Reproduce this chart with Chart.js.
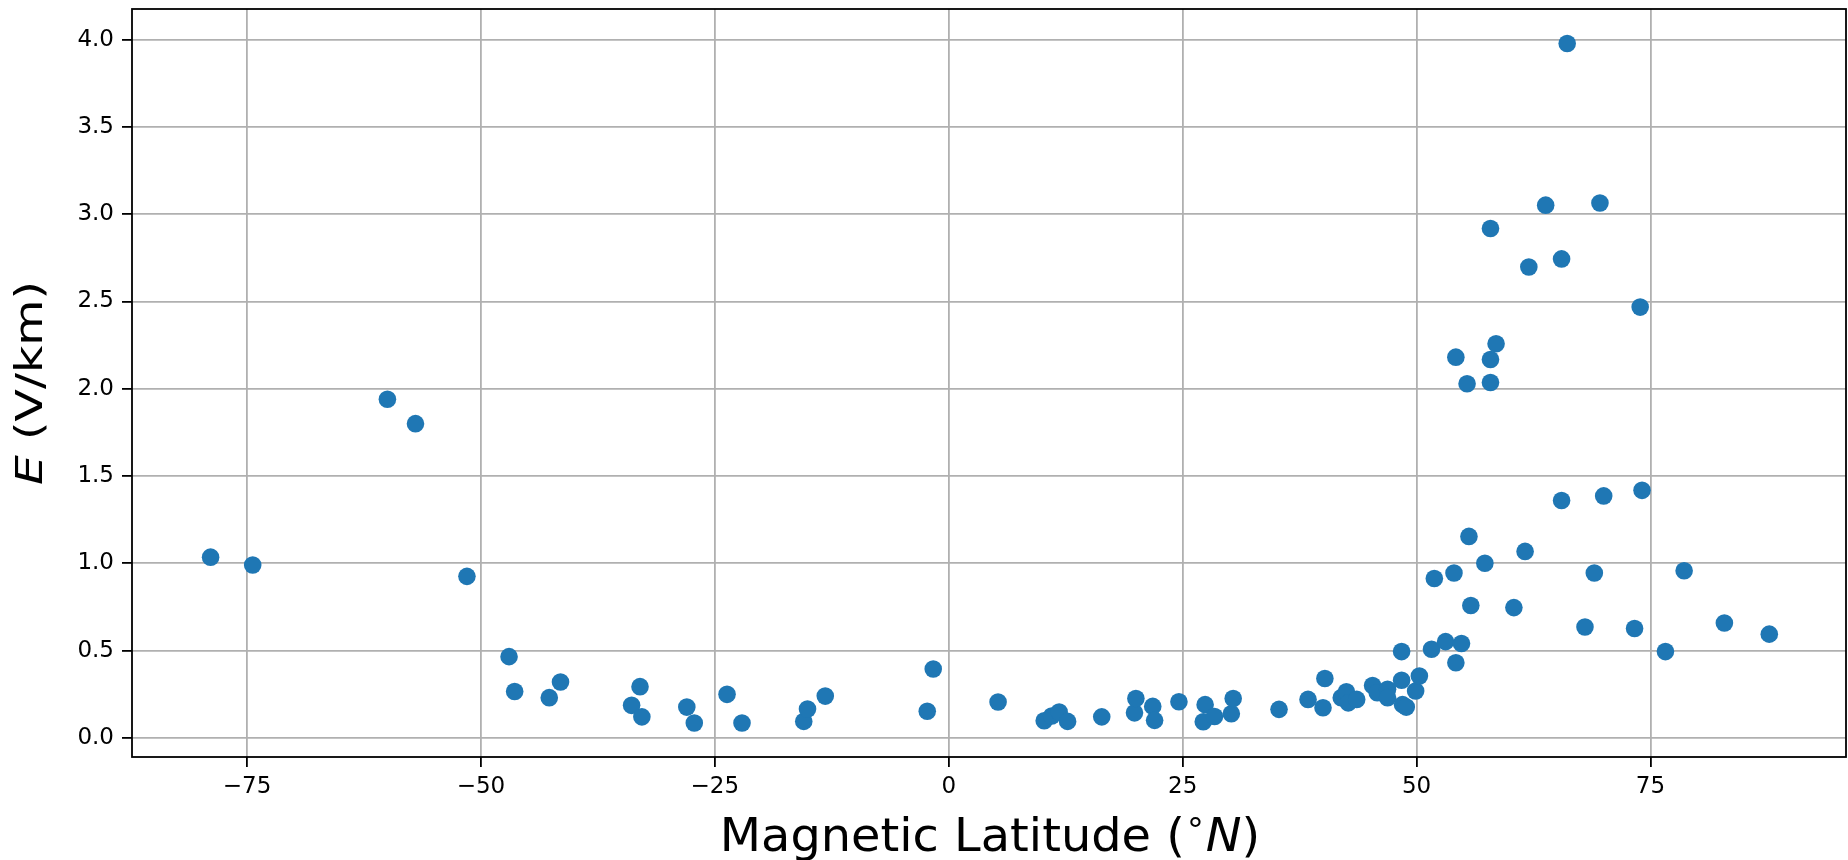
<!DOCTYPE html>
<html>
<head>
<meta charset="utf-8">
<title>E vs Magnetic Latitude</title>
<script src="https://cdn.jsdelivr.net/npm/chart.js@4.4.1/dist/chart.umd.min.js"></script>
<style>
  html, body { margin: 0; padding: 0; background: #ffffff; }
  canvas { display: block; }
</style>
</head>
<body>
<canvas id="chart" width="1848" height="860"></canvas>
<script>
// Magnetic latitude of each observation (degrees N)
const latitude = [
  -78.9, -74.4, -60.0, -57.0, -51.5, -47.0, -46.4, -42.7, -41.5,
  -33.9, -33.0, -32.8, -28.0, -27.2, -23.7, -22.1, -15.5, -15.1, -13.2,
  -2.3, -1.66, 5.27, 10.2, 11.0, 11.8, 12.7, 16.35, 19.85, 20.0, 21.8, 22.0,
  24.6, 27.2, 27.4, 28.4, 30.2, 30.4, 35.3, 38.4, 40.0, 40.2, 41.95, 42.5,
  42.7, 43.6, 45.3, 45.8, 46.9, 46.9, 48.4, 48.4, 48.5, 48.9, 49.9, 50.3,
  51.6, 53.1, 54.8, 54.2, 51.9, 54.0, 55.6, 57.3, 55.8, 61.6, 60.4, 65.5,
  70.0, 74.1, 69.0, 68.0, 73.3, 76.6, 78.6, 82.9, 87.7, 66.1, 63.8, 69.6,
  57.9, 62.0, 65.5, 73.9, 58.5, 54.2, 57.9, 55.4, 57.9
];

// Electric field magnitude (V/km)
const fieldE = [
  1.035, 0.99, 1.94, 1.80, 0.925, 0.465, 0.265, 0.23, 0.32,
  0.186, 0.293, 0.12, 0.176, 0.085, 0.249, 0.085, 0.094, 0.165, 0.239,
  0.152, 0.394, 0.205, 0.098, 0.125, 0.148, 0.094, 0.12, 0.143, 0.225, 0.18, 0.10,
  0.207, 0.092, 0.19, 0.122, 0.138, 0.225, 0.163, 0.22, 0.172, 0.34, 0.23, 0.264,
  0.20, 0.22, 0.30, 0.258, 0.278, 0.23, 0.494, 0.33, 0.19, 0.176, 0.268, 0.354,
  0.507, 0.551, 0.54, 0.43, 0.913, 0.944, 1.154, 1.0, 0.758, 1.068, 0.746, 1.36,
  1.386, 1.418, 0.944, 0.635, 0.626, 0.494, 0.957, 0.658, 0.594, 3.978, 3.052, 3.064,
  2.918, 2.698, 2.744, 2.468, 2.258, 2.181, 2.168, 2.029, 2.036
];

// Tick positions
const xTicks = [-75, -50, -25, 0, 25, 50, 75];
const yTicks = [0.0, 0.5, 1.0, 1.5, 2.0, 2.5, 3.0, 3.5, 4.0];

const points = latitude.map((x, i) => ({ x: x, y: fieldE[i] }));

const FONT = '"DejaVu Sans", "Liberation Sans", sans-serif';
const GRID = '#b0b0b0';

// Frame and axis titles with mixed italic parts
const decorations = {
  id: 'decorations',
  afterDraw(chart) {
    const { ctx, chartArea: a } = chart;
    ctx.save();
    ctx.strokeStyle = '#000';
    ctx.lineWidth = 1.8;
    ctx.strokeRect(a.left, a.top, a.right - a.left, a.bottom - a.top);

    const size = 46;
    const upright = size + 'px ' + FONT;
    const slanted = 'italic ' + size + 'px ' + FONT;
    const small = Math.round(size * 0.7) + 'px ' + FONT;
    ctx.fillStyle = '#000';
    ctx.textBaseline = 'alphabetic';
    ctx.textAlign = 'left';

    // x title: Magnetic Latitude (°N)
    const parts = [
      { t: 'Magnetic Latitude (', f: upright, dy: 0 },
      { t: '\u2218', f: small, dy: -size * 0.42 },
      { t: 'N', f: slanted, dy: 0 },
      { t: ')', f: upright, dy: 0 }
    ];
    let total = 0;
    parts.forEach(p => { ctx.font = p.f; p.w = ctx.measureText(p.t).width; total += p.w; });
    ctx.save();
    ctx.translate((a.left + a.right) / 2 + 1, 851);
    ctx.scale(1.04, 1);
    let x = -total / 2;
    parts.forEach(p => { ctx.font = p.f; ctx.fillText(p.t, x, p.dy); x += p.w; });
    ctx.restore();

    // y title: E (V/km)
    const yParts = [
      { t: 'E', f: slanted },
      { t: ' (V/km)', f: upright }
    ];
    let ytotal = 0;
    yParts.forEach(p => { ctx.font = p.f; p.w = ctx.measureText(p.t).width; ytotal += p.w; });
    ctx.translate(42, (a.top + a.bottom) / 2);
    ctx.rotate(-Math.PI / 2);
    ctx.scale(1.03, 0.8);
    let yx = -ytotal / 2;
    yParts.forEach(p => { ctx.font = p.f; ctx.fillText(p.t, yx, 0); yx += p.w; });
    ctx.restore();
  }
};

new Chart(document.getElementById('chart'), {
  type: 'scatter',
  data: {
    datasets: [{
      data: points,
      backgroundColor: '#1f77b4',
      borderWidth: 0,
      pointRadius: 8.8,
      pointHoverRadius: 8.8
    }]
  },
  options: {
    responsive: false,
    animation: false,
    events: [],
    layout: { autoPadding: false, padding: { top: 9, right: 2, left: 0, bottom: 0 } },
    plugins: { legend: { display: false }, tooltip: { enabled: false } },
    scales: {
      x: {
        type: 'linear',
        min: -87.3,
        max: 95.9,
        afterFit(s) { s.height = 103; s.paddingLeft = 0; s.paddingRight = 0; },
        afterBuildTicks(s) { s.ticks = xTicks.map(v => ({ value: v })); },
        border: { display: false },
        grid: { color: GRID, lineWidth: 1.8, tickLength: 10, tickColor: '#000', tickWidth: 1.8 },
        ticks: {
          color: '#000',
          padding: 6,
          maxRotation: 0,
          font: { family: FONT, size: 23 },
          callback: v => String(v).replace('-', '\u2212')
        }
      },
      y: {
        type: 'linear',
        min: -0.11,
        max: 4.176,
        afterFit(s) { s.width = 132; s.paddingTop = 0; s.paddingBottom = 0; },
        afterBuildTicks(s) { s.ticks = yTicks.map(v => ({ value: v })); },
        border: { display: false },
        grid: { color: GRID, lineWidth: 1.8, tickLength: 10, tickColor: '#000', tickWidth: 1.8 },
        ticks: {
          color: '#000',
          padding: 8,
          font: { family: FONT, size: 23 },
          callback: v => Number(v).toFixed(1)
        }
      }
    }
  },
  plugins: [decorations]
});
</script>
</body>
</html>
